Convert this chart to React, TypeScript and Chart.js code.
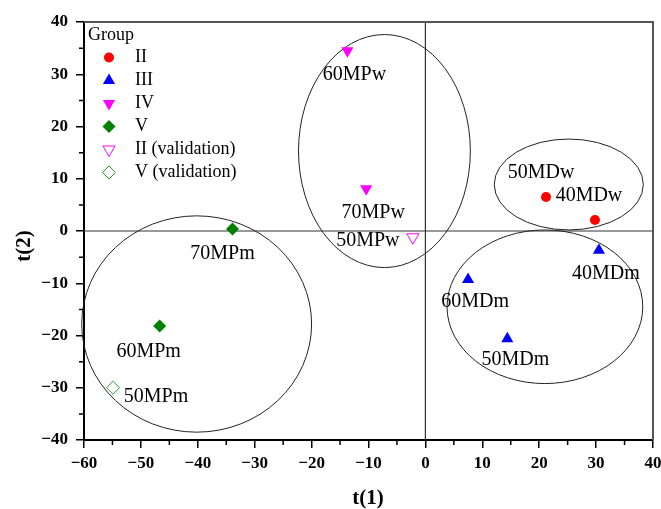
import React, { useEffect, useRef } from 'react';
import { Chart, registerables } from 'chart.js';
import { drawPoint } from 'chart.js/helpers';

Chart.register(...registerables);

// ---- data ----
const groupNames = ['II', 'III', 'IV', 'V', 'II (validation)', 'V (validation)'];

const groupII = [
  { x: 21.2, y: 6.5 },
  { x: 29.8, y: 2.1 },
];
const groupIII = [
  { x: 30.5, y: -3.7 },
  { x: 7.5, y: -9.3 },
  { x: 14.4, y: -20.6 },
];
const groupIV = [
  { x: -13.7, y: 34.5 },
  { x: -10.4, y: 8.1 },
];
const groupV = [
  { x: -33.9, y: 0.4 },
  { x: -46.7, y: -18.2 },
];
const groupIIval = [{ x: -2.2, y: -1.2 }];
const groupVval = [{ x: -54.9, y: -30.0 }];

const namesII = ['50MDw', '40MDw'];
const namesIII = ['40MDm', '60MDm', '50MDm'];
const namesIV = ['60MPw', '70MPw'];
const namesV = ['70MPm', '60MPm'];
const namesIIval = ['50MPw'];
const namesVval = ['50MPm'];

const xTicks = [-60, -50, -40, -30, -20, -10, 0, 10, 20, 30, 40];
const yTicks = [-40, -30, -20, -10, 0, 10, 20, 30, 40];

// confidence ellipses (data units)
const ellipseCx = [-7.2, -40.2, 25.2, 21.0];
const ellipseCy = [15.3, -17.8, 8.9, -14.5];
const ellipseRx = [15.1, 20.2, 13.1, 17.2];
const ellipseRy = [22.3, 20.7, 8.7, 14.7];

// label offsets in pixels relative to each point
const labelOffsets: number[][][] = [
  [[-5, -24], [-6, -24]],
  [[7, 23], [7, 22], [8, 21]],
  [[7, 24], [7, 24]],
  [[-10, 25], [-11, 26]],
  [[-45, 3]],
  [[43, 9]],
];

const SERIF = '"Liberation Serif", "Times New Roman", serif';

const datasets: any[] = [
  { label: groupNames[0], data: groupII, names: namesII, pointStyle: 'circle', pointRadius: 5, pointRotation: 0, backgroundColor: '#ff0000', borderColor: '#ff0000', borderWidth: 0 },
  { label: groupNames[1], data: groupIII, names: namesIII, pointStyle: 'triangle', pointRadius: 7, pointRotation: 0, backgroundColor: '#0000ff', borderColor: '#0000ff', borderWidth: 0 },
  { label: groupNames[2], data: groupIV, names: namesIV, pointStyle: 'triangle', pointRadius: 7, pointRotation: 180, backgroundColor: '#ff00ff', borderColor: '#ff00ff', borderWidth: 0 },
  { label: groupNames[3], data: groupV, names: namesV, pointStyle: 'rectRot', pointRadius: 6.5, pointRotation: 0, backgroundColor: '#008000', borderColor: '#008000', borderWidth: 0 },
  { label: groupNames[4], data: groupIIval, names: namesIIval, pointStyle: 'triangle', pointRadius: 7, pointRotation: 180, backgroundColor: 'rgba(0,0,0,0)', borderColor: '#ff00ff', borderWidth: 1 },
  { label: groupNames[5], data: groupVval, names: namesVval, pointStyle: 'rectRot', pointRadius: 6.5, pointRotation: 0, backgroundColor: 'rgba(0,0,0,0)', borderColor: '#2e9a2e', borderWidth: 1 },
];

const decorPlugin = {
  id: 'decor',
  beforeDatasetsDraw(chart: any) {
    const { ctx, chartArea: a, scales } = chart;
    const xs = scales.x;
    const ys = scales.y;
    ctx.save();
    // zero lines
    ctx.strokeStyle = '#333';
    ctx.lineWidth = 1.2;
    const x0 = xs.getPixelForValue(0);
    const y0 = ys.getPixelForValue(0);
    ctx.beginPath();
    ctx.moveTo(x0, a.top);
    ctx.lineTo(x0, a.bottom);
    ctx.moveTo(a.left, y0);
    ctx.lineTo(a.right, y0);
    ctx.stroke();
    // ellipses
    ctx.strokeStyle = '#222';
    ctx.lineWidth = 1;
    for (let i = 0; i < ellipseCx.length; i++) {
      const cx = xs.getPixelForValue(ellipseCx[i]);
      const cy = ys.getPixelForValue(ellipseCy[i]);
      const rx = Math.abs(xs.getPixelForValue(ellipseCx[i] + ellipseRx[i]) - cx);
      const ry = Math.abs(ys.getPixelForValue(ellipseCy[i] + ellipseRy[i]) - cy);
      ctx.beginPath();
      ctx.ellipse(cx, cy, rx, ry, 0, 0, Math.PI * 2);
      ctx.stroke();
    }
    // top/right frame
    ctx.strokeStyle = '#555';
    ctx.lineWidth = 2;
    ctx.beginPath();
    ctx.moveTo(a.left, a.top);
    ctx.lineTo(a.right, a.top);
    ctx.lineTo(a.right, a.bottom);
    ctx.stroke();
    // minor ticks
    ctx.strokeStyle = '#000';
    ctx.lineWidth = 1.5;
    ctx.beginPath();
    for (let v = -55; v < 40; v += 10) {
      const px = xs.getPixelForValue(v);
      ctx.moveTo(px, a.bottom);
      ctx.lineTo(px, a.bottom + 5);
    }
    for (let v = -35; v < 40; v += 10) {
      const py = ys.getPixelForValue(v);
      ctx.moveTo(a.left, py);
      ctx.lineTo(a.left - 5, py);
    }
    ctx.stroke();
    ctx.restore();
  },
  afterDatasetsDraw(chart: any) {
    const { ctx } = chart;
    ctx.save();
    // point labels
    ctx.fillStyle = '#000';
    ctx.font = `20px ${SERIF}`;
    ctx.textAlign = 'center';
    ctx.textBaseline = 'middle';
    chart.data.datasets.forEach((ds: any, i: number) => {
      const meta = chart.getDatasetMeta(i);
      meta.data.forEach((el: any, j: number) => {
        const off = labelOffsets[i][j];
        ctx.fillText(ds.names[j], el.x + off[0], el.y + off[1]);
      });
    });
    // legend
    ctx.textAlign = 'left';
    ctx.font = `18px ${SERIF}`;
    ctx.fillText('Group', 88, 35);
    chart.data.datasets.forEach((ds: any, i: number) => {
      const y = 57.5 + i * 23;
      ctx.fillStyle = ds.backgroundColor;
      ctx.strokeStyle = ds.borderColor;
      ctx.lineWidth = ds.borderWidth;
      drawPoint(ctx, { pointStyle: ds.pointStyle, rotation: ds.pointRotation, radius: ds.pointRadius, borderWidth: ds.borderWidth } as any, 109, y);
      ctx.fillStyle = '#000';
      ctx.fillText(ds.label, 135, y);
    });
    // axis titles
    ctx.font = `bold 21px ${SERIF}`;
    ctx.textAlign = 'center';
    ctx.fillText('t(1)', 368, 499);
    ctx.translate(25, 246);
    ctx.rotate(-Math.PI / 2);
    ctx.fillText('t(2)', 0, 0);
    ctx.restore();
  },
};

const fmt = (v: any) => String(v).replace('-', '\u2212');

export default function App() {
  const ref = useRef<HTMLCanvasElement>(null);
  useEffect(() => {
    document.body.style.margin = '0';
    const chart = new Chart(ref.current as HTMLCanvasElement, {
      type: 'scatter',
      data: { datasets },
      options: {
        animation: false,
        responsive: true,
        maintainAspectRatio: false,
        layout: { padding: { top: 22, right: 7, left: 0, bottom: 0 } },
        plugins: { legend: { display: false }, tooltip: { enabled: false } },
        scales: {
          x: {
            type: 'linear',
            min: -60,
            max: 40,
            afterFit: (s: any) => { s.height = 69; s.paddingLeft = 0; s.paddingRight = 0; },
            afterBuildTicks: (s: any) => { s.ticks = xTicks.map((v) => ({ value: v })); },
            grid: { drawOnChartArea: false, drawTicks: true, tickLength: 8, color: '#000', lineWidth: 1.5 },
            border: { display: true, color: '#000', width: 2 },
            ticks: { color: '#000', font: { family: SERIF, size: 17, weight: 'bold' }, padding: 5, maxRotation: 0, callback: fmt },
          },
          y: {
            type: 'linear',
            min: -40,
            max: 40,
            afterFit: (s: any) => { s.width = 84; s.paddingTop = 0; s.paddingBottom = 0; },
            afterBuildTicks: (s: any) => { s.ticks = yTicks.map((v) => ({ value: v })); },
            grid: { drawOnChartArea: false, drawTicks: true, tickLength: 8, color: '#000', lineWidth: 1.5 },
            border: { display: true, color: '#000', width: 2 },
            ticks: { color: '#000', font: { family: SERIF, size: 17, weight: 'bold' }, padding: 8, callback: fmt },
          },
        },
      } as any,
      plugins: [decorPlugin],
    });
    return () => chart.destroy();
  }, []);
  return (
    <div style={{ width: 661, height: 509, position: 'relative' }}>
      <canvas ref={ref} />
    </div>
  );
}
